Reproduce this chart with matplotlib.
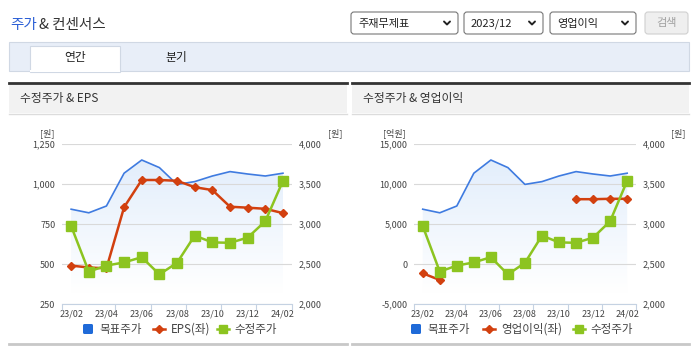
import numpy as np
import matplotlib
matplotlib.use('Agg')
import matplotlib.pyplot as plt
from matplotlib.patches import Rectangle, FancyBboxPatch

# 한글 폰트
plt.rcParams['font.family'] = ['Noto Sans CJK KR', 'DejaVu Sans']

# 데이터
months = ['23/02', '23/03', '23/04', '23/05', '23/06', '23/07', '23/08',
          '23/09', '23/10', '23/11', '23/12', '24/01', '24/02']
target_price = [3185, 3140, 3225, 3635, 3800, 3705, 3495, 3530, 3600, 3655, 3625, 3600, 3635]
adj_price = [2975, 2405, 2480, 2520, 2585, 2370, 2515, 2855, 2770, 2765, 2830, 3035, 3540]
eps = [490, 478, 473, 855, 1025, 1025, 1020, 980, 962, 858, 852, 845, 818]
op_profit = [-1160, -2000, None, None, None, None, None, None, None, 8100, 8100, 8150, 8150]

eps_ticks = [250, 500, 750, 1000, 1250]
op_ticks = [-5000, 0, 5000, 10000, 15000]
price_ticks = [2000, 2500, 3000, 3500, 4000]

W, H = 695, 349
BLUE = '#3f7be0'
RED = '#d2400f'
GREEN = '#8cc420'
TXT = '#444444'

fig = plt.figure(figsize=(W / 100, H / 100), dpi=100)
fig.patch.set_facecolor('white')

bg = fig.add_axes([0, 0, 1, 1], zorder=0)
bg.set_xlim(0, W)
bg.set_ylim(H, 0)
bg.axis('off')


def rect(x0, y0, x1, y1, fc, ec='none', lw=0):
    bg.add_patch(Rectangle((x0, y0), x1 - x0, y1 - y0, facecolor=fc, edgecolor=ec, linewidth=lw))


def box(x0, y0, x1, y1):
    return [x0 / W, 1 - y1 / H, (x1 - x0) / W, (y1 - y0) / H]


# 상단 제목
bg.text(10, 25, '주가', color='#2b5fd6', fontsize=10.5, va='center', ha='left')
bg.text(39, 25, '& 컨센서스', color='#333333', fontsize=10.5, va='center', ha='left')

# 드롭다운
for x0, x1, label in [(351, 458, '주재무제표'), (464, 543, '2023/12'), (550, 636, '영업이익')]:
    bg.add_patch(FancyBboxPatch((x0, 12), x1 - x0, 22, boxstyle='round,pad=0,rounding_size=3',
                                facecolor='white', edgecolor='#777777', linewidth=0.8))
    bg.text(x0 + 7, 23.5, label, fontsize=8, color='#222222', va='center', ha='left')
    cx = x1 - 11
    bg.plot([cx - 3, cx, cx + 3], [21.5, 24.5, 21.5], color='#222222', lw=1.4, solid_capstyle='round')
bg.add_patch(FancyBboxPatch((645, 12), 43, 22, boxstyle='round,pad=0,rounding_size=3',
                            facecolor='#efefef', edgecolor='#d0d0d0', linewidth=0.8))
bg.text(666.5, 23, '검색', fontsize=8, color='#a0a0a0', va='center', ha='center')

# 탭
rect(9, 41.5, 689, 70.5, '#e8eef8', '#d0d8e4', 0.8)
rect(29.5, 46, 120, 71.5, 'white', '#d0d8e4', 0.8)
rect(30, 70, 119.5, 72, 'white')
bg.text(75, 57.5, '연간', fontsize=8.5, color='#222222', va='center', ha='center')
bg.text(176, 57.5, '분기', fontsize=8.5, color='#222222', va='center', ha='center')

# 패널 헤더
for x0, x1, title in [(9, 347, '수정주가 & EPS'), (352, 689, '수정주가 & 영업이익')]:
    rect(x0, 83, x1, 113, '#f2f2f2')
    bg.plot([x0, x1], [82.5, 82.5], color='#333333', lw=2)
    bg.plot([x0, x1], [113.5, 113.5], color='#dcdcdc', lw=1)
    bg.plot([x0, x1], [343.5, 343.5], color='#c8c8c8', lw=2)
    bg.text(x0 + 11, 98.5, title, fontsize=8.5, color='#333333', va='center', ha='left')


def draw_chart(x0, x1, left_vals, left_ticks, unit_left, unit_lx, unit_rx):
    x = np.arange(len(months))
    xlim = (-0.5, len(months) - 0.5)
    pos = box(x0, 144, x1, 304)

    # 아래층: 목표주가 영역 + 격자 (우측 축)
    base = fig.add_axes(pos, zorder=2)
    base.set_xlim(xlim)
    base.set_ylim(price_ticks[0], price_ticks[-1])
    base.set_yticks(price_ticks)
    base.set_xticks([])
    base.tick_params(axis='y', length=0, labelleft=False)
    base.grid(axis='y', color='#d9d9d9', lw=0.8)
    base.set_axisbelow('line')
    for s in base.spines.values():
        s.set_visible(False)
    poly = base.fill_between(x, target_price, price_ticks[0], facecolor='none', edgecolor='none')
    grad = np.clip(np.linspace(-0.08, 1, 200), 0, 1).reshape(-1, 1)
    top = np.array([0.875, 0.925, 0.985])
    colors = (1 - grad)[..., None] * np.ones(3) + grad[..., None] * top
    img = base.imshow(colors, extent=[xlim[0], xlim[1], price_ticks[0], price_ticks[-1]],
                      origin='lower', aspect='auto', zorder=0)
    img.set_clip_path(poly.get_paths()[0], transform=base.transData)
    base.set_xlim(xlim)
    base.set_ylim(price_ticks[0], price_ticks[-1])
    base.plot(x, target_price, color=BLUE, lw=1.2, zorder=2)

    # 중간층: 좌측 축 (EPS / 영업이익)
    ax = fig.add_axes(pos, zorder=3)
    ax.patch.set_alpha(0)
    ax.set_xlim(xlim)
    ax.set_ylim(left_ticks[0], left_ticks[-1])
    ax.set_yticks(left_ticks)
    ax.set_yticklabels([f'{v:,}' for v in left_ticks])
    ax.set_xticks(x[::2])
    ax.set_xticklabels(months[::2])
    ax.set_xticks([-0.5] + np.arange(2.5, len(months), 2).tolist(), minor=True)
    ax.tick_params(axis='x', which='major', length=0, pad=4, labelsize=6.5, labelcolor=TXT)
    ax.tick_params(axis='x', which='minor', length=4, color='#c5d2e2', width=0.8)
    ax.tick_params(axis='y', length=0, pad=5, labelsize=6.5, labelcolor=TXT)
    for s in ['top', 'left', 'right']:
        ax.spines[s].set_visible(False)
    ax.spines['bottom'].set_color('#c5d2e2')
    ax.spines['bottom'].set_linewidth(0.8)
    vals = np.array([np.nan if v is None else v for v in left_vals], dtype=float)
    ax.plot(x, vals, color=RED, lw=1.8, marker='D', ms=4.5, zorder=3)

    # 위층: 수정주가 (우측 축)
    ax3 = fig.add_axes(pos, zorder=4)
    ax3.patch.set_alpha(0)
    ax3.set_xlim(xlim)
    ax3.set_ylim(price_ticks[0], price_ticks[-1])
    ax3.yaxis.tick_right()
    ax3.set_yticks(price_ticks)
    ax3.set_yticklabels([f'{v:,}' for v in price_ticks])
    ax3.set_xticks([])
    ax3.tick_params(axis='y', length=0, pad=5, labelsize=6.5, labelcolor=TXT)
    for s in ax3.spines.values():
        s.set_visible(False)
    ax3.plot(x, adj_price, color=GREEN, lw=1.8, marker='s', ms=6.5, zorder=4)

    bg.text(unit_lx, 133, unit_left, fontsize=6.5, color=TXT, va='center', ha='center')
    bg.text(unit_rx, 133, '[원]', fontsize=6.5, color=TXT, va='center', ha='center')


draw_chart(62.3, 291.8, eps, eps_ticks, '[원]', 47, 335)
draw_chart(414.2, 635.7, op_profit, op_ticks, '[억원]', 394, 678)


# 범례
def legend(bx, rx, gx, red_label):
    bg.add_patch(FancyBboxPatch((bx, 324), 10, 10, boxstyle='round,pad=0,rounding_size=1.5',
                                facecolor='#1f6ad8', edgecolor='none'))
    bg.text(bx + 16, 329, '목표주가', fontsize=8.3, color=TXT, va='center', ha='left')
    bg.plot([rx, rx + 12], [329, 329], color=RED, lw=1.8)
    bg.plot([rx + 6], [329], color=RED, marker='D', ms=4.5)
    bg.text(rx + 18, 329, red_label, fontsize=8.3, color=TXT, va='center', ha='left')
    bg.plot([gx, gx + 12], [329, 329], color=GREEN, lw=1.8)
    bg.plot([gx + 6], [329], color=GREEN, marker='s', ms=6)
    bg.text(gx + 17, 329, '수정주가', fontsize=8.3, color=TXT, va='center', ha='left')


legend(83, 153, 217, 'EPS(좌)')
legend(411, 483, 573, '영업이익(좌)')

fig.savefig('out.png', dpi=100)
